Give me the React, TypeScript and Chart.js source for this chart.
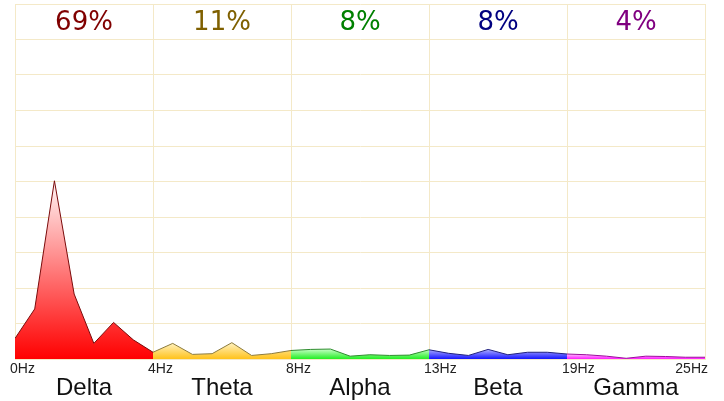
import { useEffect, useRef } from 'react';
import { Chart, registerables } from 'chart.js';

Chart.register(...registerables);

const tickLabels = ['0Hz', '4Hz', '8Hz', '13Hz', '19Hz', '25Hz'];
const bandNames = ['Delta', 'Theta', 'Alpha', 'Beta', 'Gamma'];
const bandPercents = ['69%', '11%', '8%', '8%', '4%'];

const deltaValues = [5.8, 14.1, 50.2, 18.3, 4.4, 10.3, 5.4, 1.9];
const thetaValues = [1.9, 4.4, 1.3, 1.5, 4.6, 1.0, 1.5, 2.4];
const alphaValues = [2.4, 2.7, 2.8, 0.8, 1.2, 1.0, 1.1, 2.6];
const betaValues = [2.6, 1.6, 1.0, 2.7, 1.2, 1.9, 1.9, 1.4];
const gammaValues = [1.4, 1.2, 0.8, 0.2, 0.8, 0.7, 0.5, 0.5];

const bandValues = [deltaValues, thetaValues, alphaValues, betaValues, gammaValues];
const stepsPerBand = 7;

const fillTopColors = ['#fff6f6', '#fff3c4', '#c8ffc8', '#b0b0ff', '#ffc0ff'];
const fillBottomColors = ['#ff0000', '#ffc21a', '#22ee22', '#1414ff', '#ff1aff'];
const strokeColors = ['#7a0a0a', '#8c7a3a', '#2e8b2e', '#202080', '#9a109a'];
const percentColors = ['#800000', '#7f6000', '#008000', '#000080', '#800080'];
const gridColor = '#f4e9c8';

const textPlugin = {
  id: 'bandText',
  afterDraw(chart: any) {
    const { ctx, scales } = chart;
    const xs = scales.x;
    const ys = scales.y;
    ctx.save();
    ctx.font = '26px "DejaVu Sans", sans-serif';
    ctx.textAlign = 'center';
    ctx.textBaseline = 'middle';
    bandPercents.forEach((p, i) => {
      ctx.fillStyle = percentColors[i];
      ctx.fillText(p, xs.getPixelForValue((i + 0.5) * stepsPerBand), ys.getPixelForValue(95) + 1);
    });
    ctx.font = '14px "Liberation Sans Narrow", "Liberation Sans", sans-serif';
    ctx.fillStyle = '#222';
    ctx.textBaseline = 'alphabetic';
    tickLabels.forEach((t, i) => {
      const px = xs.getPixelForValue(i * stepsPerBand);
      if (i === tickLabels.length - 1) {
        ctx.textAlign = 'right';
        ctx.fillText(t, px + 3, chart.chartArea.bottom + 14);
      } else {
        ctx.textAlign = 'left';
        ctx.fillText(t, px - 5, chart.chartArea.bottom + 14);
      }
    });
    ctx.font = '24px "Liberation Sans Narrow", "Liberation Sans", sans-serif';
    ctx.fillStyle = '#111';
    ctx.textAlign = 'center';
    bandNames.forEach((n, i) => {
      ctx.fillText(n, xs.getPixelForValue((i + 0.5) * stepsPerBand), chart.chartArea.bottom + 36);
    });
    ctx.restore();
  },
};

export default function App() {
  const ref = useRef<HTMLCanvasElement | null>(null);
  useEffect(() => {
    document.body.style.margin = '0';
    if (!ref.current) return;
    const datasets = bandValues.map((vals, b) => ({
      label: bandNames[b],
      data: vals.map((v, i) => ({ x: b * stepsPerBand + i, y: v })),
      borderColor: strokeColors[b],
      borderWidth: 1,
      pointRadius: 0,
      tension: 0,
      fill: 'origin',
      backgroundColor: (c: any) => {
        const chart = c.chart;
        const area = chart.chartArea;
        if (!area) return fillBottomColors[b];
        const top = chart.scales.y.getPixelForValue(Math.max(...vals));
        const g = chart.ctx.createLinearGradient(0, top, 0, area.bottom);
        g.addColorStop(0, fillTopColors[b]);
        g.addColorStop(1, fillBottomColors[b]);
        return g;
      },
    }));
    const chart = new Chart(ref.current, {
      type: 'line',
      data: { datasets },
      options: {
        animation: false,
        responsive: false,
        layout: { padding: { left: 15, right: 19, top: 4, bottom: 42 } },
        plugins: { legend: { display: false }, tooltip: { enabled: false } },
        scales: {
          x: {
            type: 'linear',
            min: 0,
            max: bandValues.length * stepsPerBand,
            ticks: { display: false, stepSize: stepsPerBand },
            grid: { color: gridColor, drawTicks: false },
            border: { color: gridColor },
          },
          y: {
            min: 0,
            max: 100,
            ticks: { display: false, stepSize: 10 },
            grid: { color: gridColor, drawTicks: false },
            border: { color: gridColor },
          },
        },
      },
      plugins: [textPlugin],
    });
    return () => chart.destroy();
  }, []);
  return (
    <div style={{ width: 724, height: 401 }}>
      <canvas ref={ref} width={724} height={401} style={{ display: 'block' }} />
    </div>
  );
}
